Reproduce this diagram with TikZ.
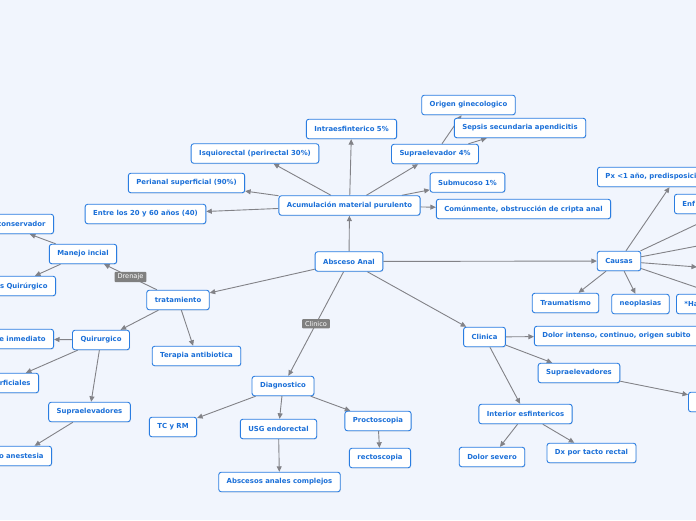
\documentclass[tikz,border=0pt]{standalone}
\usepackage{fontspec}
\setmainfont{DejaVu Sans}
\usetikzlibrary{
	arrows.meta,
	positioning,
	shadows
}

\definecolor{fondo}{RGB}{241,245,253}
\definecolor{borde}{RGB}{42,125,225}
\definecolor{texto}{RGB}{26,111,216}
\definecolor{linea}{RGB}{130,130,135}
\definecolor{gris}{RGB}{128,128,128}

\pgfdeclarelayer{bg}
\pgfdeclarelayer{lineas}
\pgfsetlayers{bg,lineas,main}

\begin{document}
\begin{tikzpicture}[
			x=1pt, y=-1pt,
			font=\fontsize{6.9}{8}\selectfont,
			caja/.style={draw=borde, fill=white, line width=0.9pt, rounded corners=2.5pt, text=texto,
				font=\fontsize{6.9}{8}\selectfont\bfseries, inner xsep=8pt, inner ysep=2pt, minimum height=19.5pt,
				drop shadow={shadow xshift=0.6pt, shadow yshift=-0.8pt, opacity=0.18}},
			izq/.style={anchor=east, text width=#1, align=right},
			der/.style={anchor=west, text width=#1, align=left},
			etq/.style={fill=gris, text=white, rounded corners=1pt, inner xsep=3pt, inner ysep=2pt, font=\fontsize{6.6}{7}\selectfont},
			>={Triangle[length=5.5pt,width=5pt]},
			fl/.style={->, draw=linea, line width=0.9pt}
		]

		\useasboundingbox (0,0) rectangle (696,520);
		\begin{pgfonlayer}{bg}
			\fill[fondo] (0,0) rectangle (696,520);
		\end{pgfonlayer}

		\node[caja] (raiz) at (349,261.5) {Absceso Anal};

		% acumulacion
		\node[caja] (acum) at (349.5,205.5) {Acumulación material purulento};
		\node[caja] (intra) at (351.5,129) {Intraesfinterico 5\%};
		\node[caja] (isquio) at (255,153.5) {Isquiorectal (perirectal 30\%)};
		\node[caja] (peri) at (186.5,183) {Perianal superficial (90\%)};
		\node[caja] (edad) at (145.5,214) {Entre los 20 y 60 años (40)};
		\node[caja] (supra4) at (435,154) {Supraelevador 4\%};
		\node[caja] (gine) at (468.5,105) {Origen ginecologico};
		\node[caja] (sepsis) at (520,128) {Sepsis secundaria apendicitis};
		\node[caja] (submu) at (467.5,182.5) {Submucoso 1\%};
		\node[caja] (cripta) at (523.5,209) {Comúnmente, obstrucción de cripta anal};

		% causas
		\node[caja] (causas) at (619,261) {Causas};
		\node[caja, der=142pt] (px) at (597,177) {Px <1 año, predisposici};
		\node[caja, der=60pt] (enf) at (674,204) {Enf};
		\node[caja] (trauma) at (565.5,303) {Traumatismo};
		\node[caja] (neo) at (640.5,304) {neoplasias};
		\node[caja, der=60pt] (ha) at (676,304) {*Ha};
		\coordinate (c1) at (760,194.5);
		\coordinate (c2) at (760,234);
		\coordinate (c3) at (697,267);
		\coordinate (c4) at (760,309);

		% clinica
		\node[caja] (clinica) at (484.5,337) {Clinica};
		\node[caja] (dolor) at (616.5,336) {Dolor intenso, continuo, origen subito};
		\node[caja] (supraD) at (579,373) {Supraelevadores};
		\node[caja, der=56pt] (otro) at (688,402) {};
		\node[caja] (inter) at (525.5,414) {Interior esfintericos};
		\node[caja] (severo) at (492,457) {Dolor severo};
		\node[caja] (tacto) at (591.5,453) {Dx por tacto rectal};

		% diagnostico
		\node[caja] (diag) at (283,386) {Diagnostico};
		\node[caja] (tc) at (173,427) {TC y RM};
		\node[caja] (usg) at (278.5,429) {USG endorectal};
		\node[caja] (complejos) at (279.5,482) {Abscesos anales complejos};
		\node[caja] (procto) at (378,421) {Proctoscopia};
		\node[caja] (recto) at (380,458) {rectoscopia};

		% tratamiento
		\node[caja] (trat) at (178,300) {tratamiento};
		\node[caja] (manejo) at (83,254) {Manejo incial};
		\node[caja, izq=86pt] (conserv) at (54,224) {conservador};
		\node[caja, izq=70pt] (quir1) at (56,286) {s Quirúrgico};
		\node[caja] (quir) at (101,340) {Quirurgico};
		\node[caja, izq=80pt] (inmed) at (54,339) {e inmediato};
		\node[caja, izq=56pt] (superf) at (39,383) {rficiales};
		\node[caja] (supraI) at (89.5,412) {Supraelevadores};
		\node[caja, izq=51pt] (anest) at (52,456) {o anestesia};
		\node[caja] (terapia) at (196.5,356) {Terapia antibiotica};

		\begin{pgfonlayer}{lineas}
			\draw[fl] (raiz) -- (acum);
			\draw[fl] (acum) -- (intra);
			\draw[fl] (acum) -- (isquio);
			\draw[fl] (acum) -- (peri);
			\draw[fl] (acum) -- (edad);
			\draw[fl] (acum) -- (supra4);
			\draw[fl] (acum) -- (submu);
			\draw[fl] (acum) -- (cripta);
			\draw[fl] (supra4) -- (gine);
			\draw[fl] (supra4) -- (sepsis);

			\draw[fl] (raiz) -- (causas);
			\draw[fl] (causas) -- (px);
			\draw[fl] (causas) -- (c1);
			\draw[fl] (causas) -- (c2);
			\draw[fl] (causas) -- (c3);
			\draw[fl] (causas) -- (c4);
			\draw[fl] (causas) -- (trauma);
			\draw[fl] (causas) -- (neo);

			\draw[fl] (raiz) -- (clinica);
			\draw[fl] (clinica) -- (dolor);
			\draw[fl] (clinica) -- (supraD);
			\draw[fl] (clinica) -- (inter);
			\draw[fl] (supraD) -- (otro);
			\draw[fl] (inter) -- (severo);
			\draw[fl] (inter) -- (tacto);

			\draw[fl] (raiz) -- node[etq] {Clinico} (diag);
			\draw[fl] (diag) -- (tc);
			\draw[fl] (diag) -- (usg);
			\draw[fl] (diag) -- (procto);
			\draw[fl] (usg) -- (complejos);
			\draw[fl] (procto) -- (recto);

			\draw[fl] (raiz) -- (trat);
			\draw[fl] (trat) -- node[etq] {Drenaje} (manejo);
			\draw[fl] (manejo) -- (conserv);
			\draw[fl] (manejo) -- (quir1);
			\draw[fl] (trat) -- (quir);
			\draw[fl] (trat) -- (terapia);
			\draw[fl] (quir) -- (inmed);
			\draw[fl] (quir) -- (superf);
			\draw[fl] (quir) -- (supraI);
			\draw[fl] (supraI) -- (anest);
		\end{pgfonlayer}
	\end{tikzpicture}
\end{document}
